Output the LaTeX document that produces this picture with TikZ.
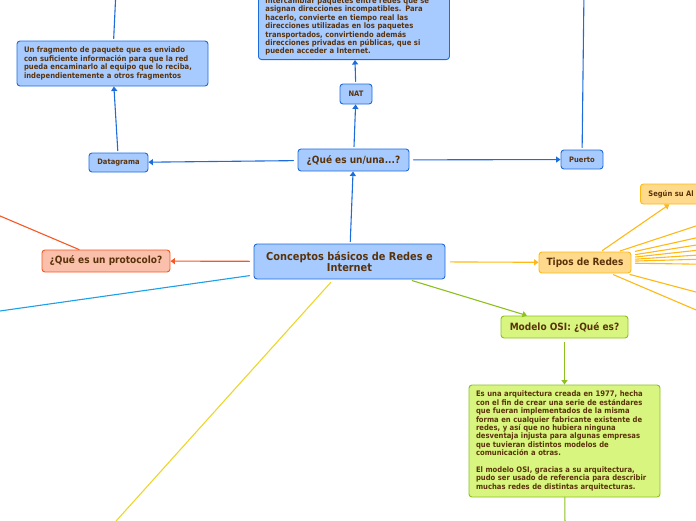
\documentclass[tikz,border=0pt]{standalone}
\usepackage{fontspec}
\setmainfont{DejaVu Sans Condensed}
\usetikzlibrary{arrows.meta}
\definecolor{brtext}{RGB}{90,50,10}
\definecolor{bluefill}{RGB}{168,203,255}
\definecolor{bluebd}{RGB}{28,108,220}
\definecolor{redfill}{RGB}{250,192,172}
\definecolor{redbd}{RGB}{245,88,36}
\definecolor{greenfill}{RGB}{216,245,128}
\definecolor{greenbd}{RGB}{140,192,30}
\definecolor{amberfill}{RGB}{255,218,140}
\definecolor{amberbd}{RGB}{255,184,20}
\definecolor{cyanline}{RGB}{28,160,232}
\definecolor{yelline}{RGB}{236,214,40}

\begin{document}
\begin{tikzpicture}[x=1pt,y=-1pt,line cap=round,line join=round,
  box/.style={rounded corners=3pt,line width=0.9pt,text=brtext,inner sep=0pt,align=center},
  bluebox/.style={box,draw=bluebd,fill=bluefill},
  redbox/.style={box,draw=redbd,fill=redfill},
  greenbox/.style={box,draw=greenbd,fill=greenfill},
  amberbox/.style={box,draw=amberbd,fill=amberfill},
  bigfont/.style={font=\bfseries\fontsize{10.9}{11}\selectfont},
  midfont/.style={font=\bfseries\fontsize{10}{11}\selectfont},
  smallfont/.style={font=\bfseries\fontsize{7.5}{8}\selectfont},
  parfont/.style={font=\bfseries\fontsize{7.6}{8.4}\selectfont,align=left,text width=177pt,inner xsep=7pt},
  link/.style={line width=1.1pt},
  arrowlink/.style={link,-{Triangle[length=4.5pt,width=6pt]}}]
\useasboundingbox (0,0) rectangle (696,520);
\clip (0,0) rectangle (696,520);
\node[bluebox,bigfont,minimum width=191pt,minimum height=35pt] (main) at (349.5,261.5) {Conceptos básicos de Redes e\\Internet};
\node[bluebox,midfont,minimum width=111pt,minimum height=22pt] (quees) at (353.5,160) {¿Qué es un/una...?};
\node[bluebox,smallfont,minimum width=32pt,minimum height=20pt] (nat) at (356,94) {NAT};
\node[bluebox,parfont,inner ysep=4pt,anchor=south west] (nattext) at (258,60) {intercambiar paquetes entre redes que se\\asignan direcciones incompatibles. Para\\hacerlo, convierte en tiempo real las\\direcciones utilizadas en los paquetes\\transportados, convirtiendo además\\direcciones privadas en públicas, que si\\pueden acceder a Internet.};
\node[bluebox,smallfont,minimum width=59pt,minimum height=19pt] (datagrama) at (118.5,162.5) {Datagrama};
\node[bluebox,parfont,minimum height=45pt] (fragmento) at (112.5,63.5) {Un fragmento de paquete que es enviado\\con suficiente información para que la red\\pueda encaminarlo al equipo que lo reciba,\\independientemente a otros fragmentos};
\node[bluebox,smallfont,minimum width=42pt,minimum height=19pt] (puerto) at (582,159.5) {Puerto};
\node[redbox,midfont,minimum width=128pt,minimum height=22pt] (protocolo) at (106,261) {¿Qué es un protocolo?};
\node[amberbox,midfont,minimum width=92pt,minimum height=21pt] (tipos) at (585,262.5) {Tipos de Redes};
\node[amberbox,smallfont,align=left,text width=72pt,inner xsep=8pt,minimum height=20pt,anchor=west] (segun) at (640,194) {Según su Al};
\node[greenbox,midfont,minimum width=127pt,minimum height=22pt] (osi) at (564.5,327) {Modelo OSI: ¿Qué es?};
\node[greenbox,parfont,minimum height=112pt] (ositext) at (564.5,441) {Es una arquitectura creada en 1977, hecha\\con el fin de crear una serie de estándares\\que fueran implementados de la misma\\forma en cualquier fabricante existente de\\redes, y así que no hubiera ninguna\\desventaja injusta para algunas empresas\\que tuvieran distintos modelos de\\comunicación a otras.\\[8.4pt]El modelo OSI, gracias a su arquitectura,\\pudo ser usado de referencia para describir\\muchas redes de distintas arquitecturas.};
\coordinate (fragup) at (116,-10);
\coordinate (puertoup) at (584,-10);
\coordinate (protoup) at (-10,211.7);
\coordinate (cyanend) at (-10,312.4);
\coordinate (yelend) at (112.5,525);
\coordinate (osidown) at (565,530);
\draw[arrowlink,bluebd,shorten <=2pt] (main) -- (quees);
\draw[arrowlink,bluebd,shorten <=4pt] (quees) -- (datagrama);
\draw[arrowlink,bluebd,shorten <=2pt] (quees) -- (nat);
\draw[arrowlink,bluebd,shorten <=4pt] (quees) -- (puerto);
\draw[arrowlink,bluebd,shorten <=2pt] (nat) -- (nattext);
\draw[arrowlink,bluebd,shorten <=2pt] (datagrama) -- (fragmento);
\draw[link,bluebd,shorten <=2pt] (fragmento) -- (fragup);
\draw[link,bluebd,shorten <=2pt] (puerto) -- (puertoup);
\draw[arrowlink,redbd,shorten <=4pt] (main) -- (protocolo);
\draw[link,redbd] (protocolo) -- (protoup);
\draw[link,cyanline,shorten <=4pt] (main) -- (cyanend);
\draw[link,yelline,shorten <=4pt] (main) -- (yelend);
\draw[arrowlink,greenbd,shorten <=4pt] (main) -- (osi);
\draw[arrowlink,greenbd,shorten <=4pt] (osi) -- (ositext);
\draw[link,greenbd] (ositext) -- (osidown);
\draw[arrowlink,amberbd,shorten <=5pt] (main) -- (tipos);
\draw[arrowlink,amberbd,shorten <=2pt] (tipos) -- (segun);
\foreach \y/\s [count=\i] in {222.7/2,235.7/4,243.5/4,249.3/4,254.5/4,259/4,264.3/4,294.7/4,314.2/3}{
  \coordinate (fan\i) at (706,\y);
  \draw[link,amberbd,shorten <=\s pt] (tipos) -- (fan\i);
}
\end{tikzpicture}
\end{document}
